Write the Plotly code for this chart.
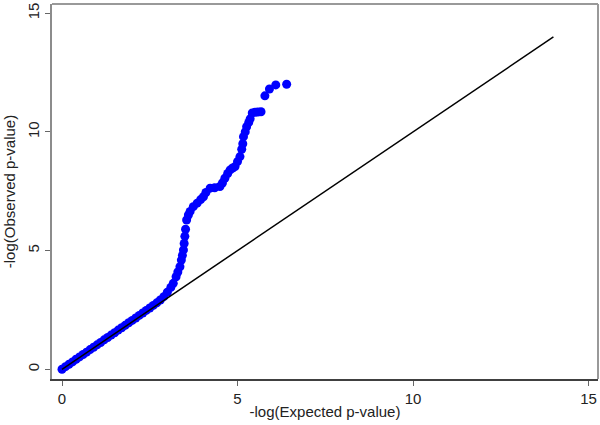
import plotly.graph_objects as go

# Expected vs observed -log10 p-values
expected = [0.0, 0.1, 0.2, 0.3, 0.4, 0.5, 0.6, 0.7, 0.8, 0.9, 1.0, 1.1, 1.2, 1.3, 1.4,
            1.5, 1.6, 1.7, 1.8, 1.9, 2.0, 2.1, 2.2, 2.3, 2.4, 2.5, 2.6, 2.7, 2.8,
            2.9, 3.0, 3.1, 3.17, 3.25, 3.3, 3.36, 3.4, 3.43, 3.46, 3.48, 3.5, 3.52,
            3.55, 3.6, 3.65, 3.74, 3.85, 3.95, 4.03, 4.1, 4.22, 4.35, 4.5, 4.57,
            4.64, 4.72, 4.79, 4.86, 4.93, 5.0, 5.07, 5.12, 5.15, 5.17, 5.22, 5.26,
            5.32, 5.36, 5.42, 5.5, 5.58, 5.67, 5.78, 5.91, 6.09, 6.40]
observed = [0.0, 0.11, 0.21, 0.31, 0.42, 0.52, 0.62, 0.72, 0.83, 0.93, 1.03, 1.13, 1.24, 1.34, 1.44,
            1.54, 1.65, 1.75, 1.85, 1.96, 2.06, 2.16, 2.27, 2.37, 2.48, 2.58, 2.69, 2.8, 2.92,
            3.06, 3.25, 3.45, 3.62, 3.9, 4.1, 4.32, 4.6, 4.8, 5.03, 5.3, 5.6, 5.9,
            6.29, 6.5, 6.65, 6.85, 7.0, 7.15, 7.27, 7.45, 7.63, 7.65, 7.7, 7.85,
            8.05, 8.25, 8.4, 8.48, 8.54, 8.75, 8.96, 9.27, 9.5, 9.8, 10.0, 10.22,
            10.4, 10.55, 10.8, 10.83, 10.84, 10.85, 11.52, 11.81, 11.98, 12.01]
line_x = [0, 14]
line_y = [0, 14]
tick_vals = [0, 5, 10, 15]

fig = go.Figure()
fig.add_trace(go.Scatter(x=expected, y=observed, mode="markers",
                         marker=dict(color="#0000ff", size=9, line=dict(width=0)),
                         showlegend=False))
fig.add_trace(go.Scatter(x=line_x, y=line_y, mode="lines",
                         line=dict(color="black", width=1.5), showlegend=False))

font = dict(family="Liberation Sans, Arial, sans-serif", color="#222222")
fig.update_layout(
    width=600, height=425,
    margin=dict(l=52, r=2, t=4, b=46),
    paper_bgcolor="white", plot_bgcolor="white",
    font=dict(size=14, **font),
    xaxis=dict(range=[-0.285, 15.27], tickvals=tick_vals, showgrid=False, zeroline=False,
               showline=True, linecolor="#404040", linewidth=2,
               ticks="outside", ticklen=5, tickcolor="#666666",
               tickfont=dict(size=15), title=dict(text="-log(Expected p-value)", font=dict(size=15), standoff=0)),
    yaxis=dict(range=[-0.41, 15.39], tickvals=tick_vals, showgrid=False, zeroline=False,
               showline=True, linecolor="#8c8c8c", linewidth=2,
               ticks="outside", ticklen=5, tickcolor="#666666", tickangle=-90,
               tickfont=dict(size=15), title=dict(text="-log(Observed p-value)", font=dict(size=15), standoff=6)),
    shapes=[dict(type="line", xref="paper", yref="paper", x0=0, x1=1, y0=1, y1=1,
                 line=dict(color="#999999", width=2)),
            dict(type="line", xref="paper", yref="paper", x0=1, x1=1, y0=0, y1=1,
                 line=dict(color="#999999", width=2))],
)
fig.write_html("out.html", config={"displayModeBar": False},
               post_script="document.body.style.margin='0';")
